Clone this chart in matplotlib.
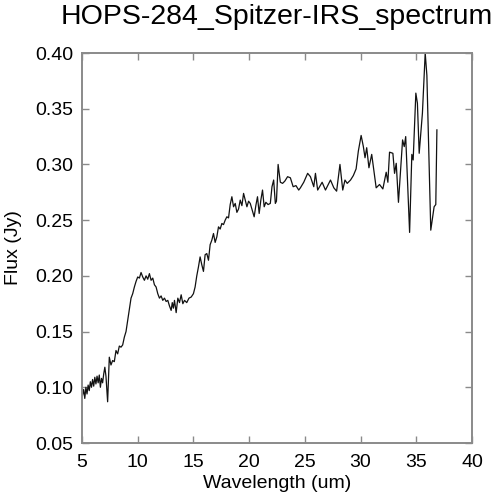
import matplotlib
matplotlib.use("Agg")
import matplotlib.pyplot as plt

title = "HOPS-284_Spitzer-IRS_spectrum"
xlabel = "Wavelength (um)"
ylabel = "Flux (Jy)"

wavelength = [
    5.05, 5.15, 5.25, 5.35, 5.45, 5.55, 5.65, 5.75, 5.85, 5.95,
    6.05, 6.15, 6.25, 6.35, 6.45, 6.55, 6.65, 6.75, 6.85, 6.95,
    7.05, 7.15, 7.30, 7.45, 7.6, 7.75, 7.9, 8.05, 8.2, 8.35,
    8.5, 8.65, 8.8, 8.95, 9.1, 9.25, 9.4, 9.55, 9.7, 9.85,
    10.0, 10.15, 10.3, 10.45, 10.6, 10.75, 10.9, 11.05, 11.2, 11.35,
    11.5, 11.65, 11.8, 11.95, 12.1, 12.25, 12.4, 12.55, 12.7, 12.85,
    13.0, 13.1, 13.2, 13.3, 13.45, 13.6, 13.75, 13.9, 14.05, 14.2,
    14.4, 14.6, 14.8, 15.0, 15.15, 15.3, 15.45, 15.6, 15.75, 15.9,
    16.05, 16.2, 16.35, 16.5, 16.65, 16.8, 16.95, 17.1, 17.25, 17.4,
    17.55, 17.7, 17.85, 18.0, 18.15, 18.3, 18.45, 18.6, 18.75, 18.9,
    19.05, 19.2, 19.35, 19.5, 19.65, 19.8, 19.95, 20.1, 20.3, 20.45,
    20.6, 20.75, 20.9, 21.05, 21.2, 21.35, 21.5, 21.7, 21.9, 22.05,
    22.2, 22.35, 22.45, 22.6, 22.8, 23.0, 23.2, 23.45, 23.7, 23.95,
    24.2, 24.45, 24.6, 24.9, 25.25, 25.5, 25.8, 25.95, 26.15, 26.55,
    26.85, 27.3, 27.6, 27.85, 28.15, 28.4, 28.6, 28.8, 29.1, 29.35,
    29.6, 29.8, 30.05, 30.25, 30.4, 30.55, 30.75, 31.0, 31.4, 31.7,
    32.0, 32.3, 32.45, 32.6, 32.9, 33.05, 33.2, 33.4, 33.77, 33.92,
    34.05, 34.4, 34.6, 34.72, 34.96, 35.1, 35.26, 35.55, 35.8, 35.95,
    36.3, 36.6, 36.75, 36.85,
]

flux = [
    0.093, 0.098, 0.090, 0.100, 0.094, 0.102, 0.097, 0.105, 0.100, 0.107,
    0.101, 0.109, 0.103, 0.110, 0.104, 0.111, 0.100, 0.108, 0.104, 0.112,
    0.118, 0.110, 0.087, 0.127, 0.120, 0.124, 0.123, 0.133, 0.130, 0.137,
    0.136, 0.138, 0.145, 0.150, 0.160, 0.170, 0.180, 0.184, 0.190, 0.195,
    0.199, 0.198, 0.203, 0.199, 0.196, 0.200, 0.197, 0.202, 0.196, 0.198,
    0.192, 0.190, 0.184, 0.180, 0.182, 0.178, 0.180, 0.177, 0.178, 0.173,
    0.169, 0.176, 0.171, 0.178, 0.167, 0.180, 0.176, 0.183, 0.175, 0.178,
    0.176, 0.180, 0.181, 0.184, 0.190, 0.200, 0.208, 0.217, 0.210, 0.204,
    0.219, 0.220, 0.214, 0.228, 0.232, 0.238, 0.230, 0.235, 0.244, 0.242,
    0.247, 0.246, 0.250, 0.253, 0.252, 0.264, 0.271, 0.262, 0.265, 0.257,
    0.260, 0.268, 0.263, 0.274, 0.268, 0.262, 0.267, 0.265, 0.258, 0.253,
    0.263, 0.271, 0.256, 0.268, 0.277, 0.262, 0.266, 0.264, 0.265, 0.280,
    0.286, 0.265, 0.267, 0.300, 0.284, 0.283, 0.285, 0.289, 0.288, 0.280,
    0.281, 0.277, 0.279, 0.284, 0.292, 0.289, 0.280, 0.292, 0.277, 0.284,
    0.277, 0.286, 0.279, 0.276, 0.300, 0.277, 0.286, 0.283, 0.286, 0.290,
    0.296, 0.312, 0.326, 0.316, 0.306, 0.315, 0.297, 0.309, 0.279, 0.282,
    0.278, 0.293, 0.284, 0.311, 0.310, 0.292, 0.301, 0.266, 0.322, 0.316,
    0.325, 0.239, 0.309, 0.304, 0.364, 0.355, 0.310, 0.346, 0.400, 0.380,
    0.241, 0.262, 0.264, 0.331,
]

xticks = [5, 10, 15, 20, 25, 30, 35, 40]
yticks = [0.05, 0.10, 0.15, 0.20, 0.25, 0.30, 0.35, 0.40]

plt.rcParams['font.family'] = ['Liberation Sans', 'DejaVu Sans']

fig = plt.figure(figsize=(4.92, 5.00), dpi=100)
ax = fig.add_axes([82/492, 1 - 443/500, (472 - 82)/492, (443 - 53)/500])
ax.plot(wavelength, flux, color='#111111', linewidth=0.9)
ax.set_xlim(5, 40)
ax.set_ylim(0.05, 0.40)
ax.set_xticks(xticks)
ax.set_xticklabels([str(t) for t in xticks])
ax.set_yticks(yticks)
ax.set_yticklabels([f"{t:.2f}" for t in yticks])

spine_color = '#8a8a8a'
for s in ax.spines.values():
    s.set_color(spine_color)
    s.set_linewidth(1.4)
ax.tick_params(direction='in', length=5, width=1.0, color=spine_color,
               top=True, right=True, labelsize=14, labelcolor='black')
ax.tick_params(axis='x', pad=8)
ax.tick_params(axis='y', pad=6)

ax.set_xlabel(xlabel, fontsize=14, labelpad=3)
ax.set_ylabel(ylabel, fontsize=14, labelpad=10)
fig.text(277/492, 1 - 23.5/500, title, fontsize=20.5, ha='center', va='baseline')

fig.savefig("out.png", dpi=100)
